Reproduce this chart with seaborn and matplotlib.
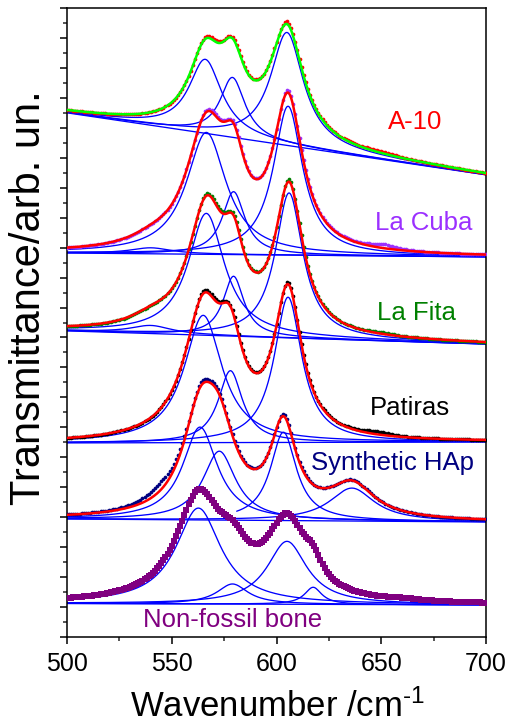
import numpy as np
import pandas as pd
import matplotlib
matplotlib.use("Agg")
import matplotlib.pyplot as plt
import seaborn as sns
from matplotlib.ticker import MultipleLocator

# ---------------- data ----------------
# y in arbitrary stacked units (1 unit = one major y tick)
x_limits = [500, 700]
x_ticks = [500, 550, 600, 650, 700]

samples = ["A-10", "La Cuba", "La Fita", "Patiras", "Synthetic HAp", "Non-fossil bone"]

# baseline [value at 500, value at 700]
a10_baseline = [17.50, 15.43]
a10_centers = [566.0, 579.0, 605.0]
a10_heights = [2.47, 2.00, 3.77]
a10_hwhm = [9.5, 7.2, 9.5]
a10_data_heights = [2.52, 2.02, 3.85]
a10_data_shoulder = [650.0, 0.06, 8.0]

cuba_baseline = [12.82, 12.69]
cuba_centers = [540.0, 566.5, 579.5, 605.5]
cuba_heights = [0.20, 4.07, 2.10, 4.97]
cuba_hwhm = [12.0, 11.5, 6.5, 8.5]
cuba_data_heights = [0.20, 4.12, 2.12, 5.05]
cuba_data_shoulder = [651.0, 0.13, 7.0]   # centre, height, hwhm (measured only)

fita_baseline = [10.22, 9.78]
fita_centers = [540.0, 566.5, 579.5, 606.0]
fita_heights = [0.27, 4.07, 2.00, 4.84]
fita_hwhm = [12.0, 10.5, 6.0, 8.0]
fita_data_heights = [0.27, 4.12, 2.03, 4.92]
fita_data_shoulder = [650.0, 0.05, 7.0]

patiras_baseline = [6.48, 6.51]
patiras_centers = [565.0, 578.0, 605.5]
patiras_heights = [4.25, 2.40, 4.85]
patiras_hwhm = [11.0, 7.0, 8.0]
patiras_data_heights = [4.32, 2.42, 4.92]
patiras_data_shoulder = [648.0, 0.10, 8.0]

hap_baseline = [3.94, 3.84]
hap_centers = [563.5, 572.7, 603.3, 636.0]
hap_heights = [3.10, 2.30, 2.95, 1.10]
hap_hwhm = [10.0, 9.5, 7.5, 13.0]
hap_data_heights = [3.14, 2.32, 3.00, 1.12]
hap_data_shoulder = [545.0, 0.25, 10.0]
hap_component_start = [500.0, 500.0, 581.0, 500.0]

bone_baseline = [1.12, 1.07]
bone_centers = [562.7, 579.0, 605.0, 617.5]
bone_heights = [3.20, 0.67, 2.10, 0.57]
bone_hwhm = [13.0, 9.0, 11.5, 5.0]
bone_data_heights = [3.40, 1.05, 2.55, 0.60]
bone_data_shoulder = [660.0, 0.05, 10.0]

# ---------------- build tables ----------------
grid = np.arange(x_limits[0], x_limits[1] + 0.25, 0.5)
data_grid = np.arange(x_limits[0], x_limits[1] + 0.5, 1.0)


def baseline(x, b):
    return b[0] + (b[1] - b[0]) * (x - x_limits[0]) / (x_limits[1] - x_limits[0])


def lorentz(x, c, h, w):
    return h / (1.0 + ((x - c) / w) ** 2)


def total(x, b, cs, hs, ws):
    y = baseline(x, b)
    for c, h, w in zip(cs, hs, ws):
        y = y + lorentz(x, c, h, w)
    return y


spec = {
    "A-10": (a10_baseline, a10_centers, a10_heights, a10_hwhm, a10_data_heights, None, a10_data_shoulder),
    "La Cuba": (cuba_baseline, cuba_centers, cuba_heights, cuba_hwhm, cuba_data_heights, None, cuba_data_shoulder),
    "La Fita": (fita_baseline, fita_centers, fita_heights, fita_hwhm, fita_data_heights, None, fita_data_shoulder),
    "Patiras": (patiras_baseline, patiras_centers, patiras_heights, patiras_hwhm, patiras_data_heights, None,
                patiras_data_shoulder),
    "Synthetic HAp": (hap_baseline, hap_centers, hap_heights, hap_hwhm, hap_data_heights, hap_component_start,
                      hap_data_shoulder),
    "Non-fossil bone": (bone_baseline, bone_centers, bone_heights, bone_hwhm, bone_data_heights, None,
                        bone_data_shoulder),
}

comp_rows, fit_rows, data_rows = [], [], []
for s in samples:
    b, cs, hs, ws, dhs, starts, extra = spec[s]
    for xv in grid:
        comp_rows.append((s, "base", xv, baseline(xv, b)))
    for i, (c, h, w) in enumerate(zip(cs, hs, ws)):
        st = starts[i] if starts is not None else x_limits[0]
        for xv in grid[grid >= st]:
            comp_rows.append((s, f"p{i}", xv, baseline(xv, b) + lorentz(xv, c, h, w)))
    for xv in grid:
        fit_rows.append((s, xv, total(xv, b, cs, hs, ws)))
    for xv in data_grid:
        data_rows.append((s, xv, total(xv, b, cs, dhs, ws) + lorentz(xv, *extra)))

comp_df = pd.DataFrame(comp_rows, columns=["sample", "comp", "x", "y"])
comp_df["key"] = comp_df["sample"] + "_" + comp_df["comp"]
fit_df = pd.DataFrame(fit_rows, columns=["sample", "x", "y"])
data_df = pd.DataFrame(data_rows, columns=["sample", "x", "y"])

# ---------------- styling ----------------
sns.set_theme(style="ticks")
plt.rcParams["font.family"] = ["Liberation Sans", "DejaVu Sans"]
plt.rcParams["mathtext.fontset"] = "custom"
plt.rcParams["mathtext.rm"] = "Liberation Sans"
plt.rcParams["mathtext.it"] = "Liberation Sans"

label_colors = {
    "A-10": "#ff0000",
    "La Cuba": "#9b30ff",
    "La Fita": "#008000",
    "Patiras": "#000000",
    "Synthetic HAp": "#000080",
    "Non-fossil bone": "#800080",
}
dot_colors = dict(label_colors)
fit_colors = {
    "A-10": "#00ff00",
    "La Cuba": "#ff0000",
    "La Fita": "#ff0000",
    "Patiras": "#ff0000",
    "Synthetic HAp": "#ff0000",
}

fig = plt.figure(figsize=(5.09, 7.25), dpi=100)
ax = fig.add_axes([67 / 509, 1 - 637 / 725, 419 / 509, 629 / 725])

sns.lineplot(data=comp_df, x="x", y="y", units="key", estimator=None, sort=False,
             color="#0000ff", linewidth=0.95, ax=ax, legend=False, zorder=2)

for s in samples:
    d = data_df[data_df["sample"] == s]
    if s == "Non-fossil bone":
        sns.scatterplot(data=d, x="x", y="y", color=dot_colors[s], s=13, marker="s",
                        linewidth=0, ax=ax, legend=False, zorder=3)
    else:
        sns.scatterplot(data=d, x="x", y="y", color=dot_colors[s], s=7,
                        linewidth=0, ax=ax, legend=False, zorder=3)
    if s in fit_colors:
        f = fit_df[fit_df["sample"] == s]
        sns.lineplot(data=f, x="x", y="y", color=fit_colors[s], linewidth=1.8,
                     estimator=None, sort=False, ax=ax, legend=False, zorder=4)

ax.set_xlim(*x_limits)
ax.set_ylim(0, 21)
ax.set_xticks(x_ticks)
ax.xaxis.set_minor_locator(MultipleLocator(25))
ax.yaxis.set_major_locator(MultipleLocator(1))
ax.yaxis.set_minor_locator(MultipleLocator(0.5))
ax.set_yticklabels([])
ax.tick_params(axis="both", which="major", direction="out", length=5, width=1.1,
               labelsize=18, pad=6, colors="black", top=False, right=False)
ax.tick_params(axis="both", which="minor", direction="out", length=3, width=1.1,
               top=False, right=False)
for sp in ax.spines.values():
    sp.set_visible(True)
    sp.set_linewidth(1.1)
    sp.set_color("black")
ax.set_xlabel("")
ax.set_ylabel("")

fig.text(278 / 509, 1 - 717 / 725, r"Wavenumber /cm$^{\text{-1}}$", ha="center",
         va="baseline", fontsize=25, color="black")
fig.text(29 / 509, 1 - 298 / 725, "Transmittance/arb. un.", ha="center", va="center",
         rotation=90, fontsize=30, color="black")

label_pos = {
    "A-10": (0.831, 0.819),
    "La Cuba": (0.852, 0.658),
    "La Fita": (0.833, 0.515),
    "Patiras": (0.819, 0.364),
    "Synthetic HAp": (0.778, 0.277),
    "Non-fossil bone": (0.396, 0.027),
}
for s in samples:
    px, py = label_pos[s]
    ax.text(px, py, s, transform=ax.transAxes, ha="center", va="center",
            fontsize=18.5, color=label_colors[s])

fig.savefig("out.png", dpi=100)
